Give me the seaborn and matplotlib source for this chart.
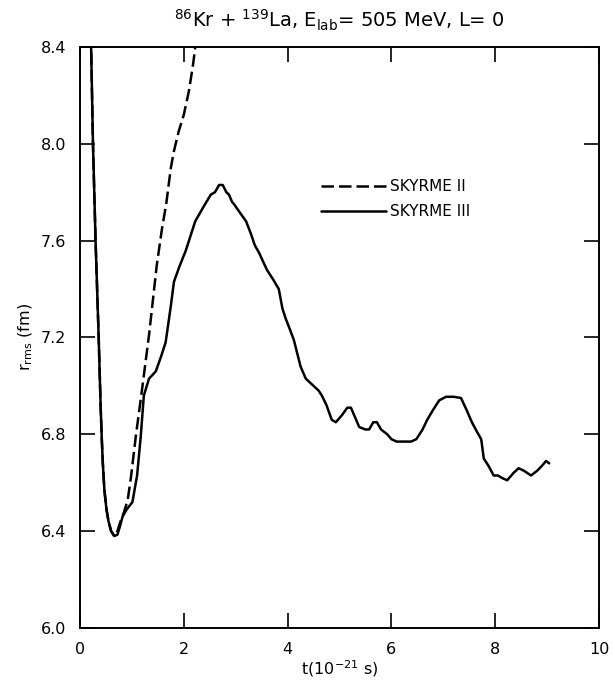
import matplotlib
matplotlib.use("Agg")
import matplotlib.pyplot as plt
import seaborn as sns
import pandas as pd
from matplotlib.lines import Line2D

# ---- data ----
t_sk3 = [0.21, 0.25, 0.30, 0.33, 0.36, 0.38, 0.40, 0.42, 0.44, 0.47, 0.51, 0.55, 0.60,
         0.66, 0.72, 0.77, 0.82, 0.90, 1.01, 1.10, 1.17, 1.23, 1.33, 1.46, 1.56, 1.65,
         1.75, 1.81, 1.91, 2.04, 2.22, 2.38, 2.52, 2.60, 2.68, 2.75, 2.82, 2.87, 2.93,
         2.97, 3.10, 3.20, 3.29, 3.37, 3.45, 3.60, 3.72, 3.83, 3.90, 3.96, 4.05, 4.12,
         4.25, 4.35, 4.50, 4.60, 4.66, 4.75, 4.85, 4.93, 5.05, 5.15, 5.22, 5.30, 5.38,
         5.50, 5.57, 5.65, 5.72, 5.80, 5.92, 6.00, 6.10, 6.25, 6.38, 6.48, 6.60, 6.69,
         6.80, 6.92, 7.05, 7.20, 7.34, 7.45, 7.55, 7.65, 7.73, 7.78, 7.87, 7.97, 8.05,
         8.13, 8.23, 8.35, 8.45, 8.55, 8.69, 8.81, 8.90, 8.98, 9.04]
r_sk3 = [8.45, 8.00, 7.60, 7.40, 7.20, 7.05, 6.90, 6.78, 6.68, 6.57, 6.49, 6.44, 6.40,
         6.38, 6.385, 6.42, 6.46, 6.49, 6.52, 6.63, 6.79, 6.96, 7.03, 7.06, 7.12, 7.18,
         7.33, 7.43, 7.49, 7.56, 7.68, 7.74, 7.79, 7.80, 7.83, 7.83, 7.80, 7.79, 7.76,
         7.75, 7.71, 7.68, 7.63, 7.58, 7.55, 7.48, 7.44, 7.40, 7.32, 7.28, 7.23, 7.19,
         7.08, 7.03, 7.00, 6.98, 6.96, 6.92, 6.86, 6.85, 6.88, 6.91, 6.91, 6.87, 6.83,
         6.82, 6.82, 6.85, 6.85, 6.82, 6.80, 6.78, 6.77, 6.77, 6.77, 6.78, 6.82, 6.86,
         6.90, 6.94, 6.955, 6.955, 6.95, 6.90, 6.85, 6.81, 6.78, 6.70, 6.67, 6.63, 6.63,
         6.62, 6.61, 6.64, 6.66, 6.65, 6.63, 6.65, 6.67, 6.69, 6.68]

t_sk2 = [0.21, 0.25, 0.30, 0.33, 0.36, 0.38, 0.40, 0.42, 0.44, 0.47, 0.51, 0.55, 0.60,
         0.66, 0.72, 0.78, 0.85, 0.92, 0.98, 1.08, 1.18, 1.33, 1.48, 1.58, 1.66, 1.75,
         1.81, 1.90, 2.00, 2.10, 2.18, 2.25]
r_sk2 = [8.45, 8.00, 7.60, 7.40, 7.20, 7.05, 6.90, 6.78, 6.68, 6.57, 6.49, 6.44, 6.40,
         6.38, 6.40, 6.44, 6.48, 6.53, 6.62, 6.80, 6.96, 7.21, 7.50, 7.65, 7.75, 7.90,
         7.97, 8.05, 8.12, 8.22, 8.33, 8.45]

labels = ["SKYRME II", "SKYRME III"]
x_ticks = [0, 2, 4, 6, 8, 10]
y_ticks = [6.0, 6.4, 6.8, 7.2, 7.6, 8.0, 8.4]

df = pd.concat([
    pd.DataFrame({"t": t_sk2, "r": r_sk2, "model": labels[0]}),
    pd.DataFrame({"t": t_sk3, "r": r_sk3, "model": labels[1]}),
])

sns.set_style("ticks")
plt.rcParams["font.family"] = ["DejaVu Sans"]
plt.rcParams["mathtext.default"] = "regular"
plt.rcParams["text.color"] = "black"
plt.rcParams["axes.labelcolor"] = "black"

fig = plt.figure(figsize=(6.13, 6.82), dpi=100)
ax = fig.add_axes([0.1305, 0.0792, 0.8467, 0.8519])

sns.lineplot(data=df, x="t", y="r", hue="model", style="model", sort=False,
             estimator=None, palette=["black", "black"],
             dashes={labels[0]: (5, 2), labels[1]: ""}, linewidth=1.8, ax=ax,
             legend=False)

ax.set_xlim(0, 10)
ax.set_ylim(6.0, 8.4)
ax.set_xticks(x_ticks)
ax.set_xticklabels([str(v) for v in x_ticks])
ax.set_yticks(y_ticks)
ax.set_yticklabels([f"{v:.1f}" for v in y_ticks])
ax.tick_params(direction="in", length=11, width=1.2, top=True, right=True,
               labelsize=11.5, pad=10, colors="black")
for s in ax.spines.values():
    s.set_linewidth(1.4)
    s.set_color("black")

ax.set_xlabel("t(10$^{-21}$ s)", fontsize=11.5, labelpad=1)
ax.set_ylabel("r$_{rms}$ (fm)", fontsize=11.5, labelpad=4)
ax.set_title("$^{86}$Kr + $^{139}$La, E$_{lab}$= 505 MeV, L= 0", fontsize=14, pad=14)

handles = [Line2D([], [], color="black", lw=1.8, dashes=(5, 2)),
           Line2D([], [], color="black", lw=1.8)]
ax.legend(handles, labels, loc="upper left", bbox_to_anchor=(0.465, 0.772),
          frameon=False, fontsize=11, handlelength=4.2, handletextpad=0.3,
          labelspacing=0.63, borderpad=0, borderaxespad=0)

fig.savefig("out.png", dpi=100)
